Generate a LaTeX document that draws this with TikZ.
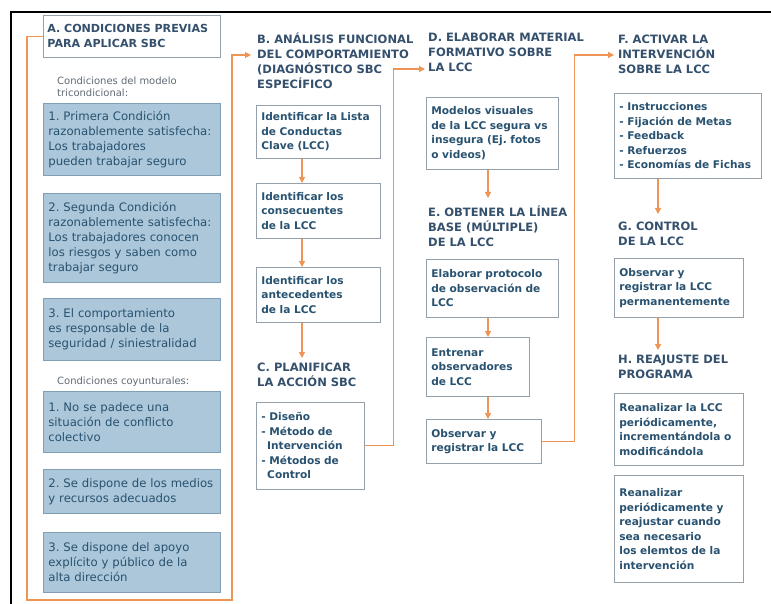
\documentclass[tikz,border=0pt]{standalone}
\usepackage{fontspec}
\setmainfont{DejaVu Sans}
\frenchspacing
\usetikzlibrary{arrows.meta,positioning}
\definecolor{sbcorange}{RGB}{238,148,85}
\definecolor{sbcblue}{RGB}{172,199,217}
\definecolor{sbcblueline}{RGB}{128,158,180}
\definecolor{sbcgrayline}{RGB}{150,160,170}
\definecolor{sbctext}{RGB}{40,82,112}
\definecolor{sbchead}{RGB}{52,80,108}
\definecolor{sbcnote}{RGB}{95,105,115}

\begin{document}
\begin{tikzpicture}[x=1pt,y=-1pt,
  wbox/.style={draw=sbcgrayline,line width=0.8pt,fill=white,anchor=north west,
    inner xsep=5pt,inner ysep=2pt,align=left,text=sbctext,
    font=\bfseries\fontsize{10.6}{14.5}\selectfont},
  bbox/.style={draw=sbcblueline,line width=0.8pt,fill=sbcblue,anchor=north west,
    inner xsep=5pt,inner ysep=2pt,align=left,text=sbctext,text width=167pt,
    font=\fontsize{11.7}{15}\selectfont},
  head/.style={anchor=north west,inner sep=0pt,align=left,text=sbchead,
    font=\bfseries\fontsize{11.5}{15}\selectfont},
  note/.style={anchor=north west,inner sep=0pt,align=left,text=sbcnote,
    font=\fontsize{10}{11.5}\selectfont},
  flow/.style={draw=sbcorange,line width=1.1pt,-{Triangle[length=6pt,width=6pt]}}]
  \useasboundingbox (0,0) rectangle (771,604);
  \draw[line width=1.5pt] (11,604) -- (11,12) -- (771,12); % frame

  % A. conditions
  \node[wbox,inner xsep=4pt,text width=169pt,minimum height=42pt,text=sbchead,
    font=\bfseries\fontsize{11.1}{15}\selectfont] (atitle) at (43,15)
    {A. CONDICIONES PREVIAS\\PARA APLICAR SBC};
  \node[note] (anote) at (57,77) {Condiciones del modelo\\tricondicional:};
  \node[bbox,minimum height=72pt] (a1) at (43,103)
    {1. Primera Condición\\razonablemente satisfecha:\\Los trabajadores\\pueden trabajar seguro};
  \node[bbox,minimum height=89pt] (a2) at (43,193)
    {2. Segunda Condición\\razonablemente satisfecha:\\Los trabajadores conocen\\los riesgos y saben como\\trabajar seguro};
  \node[bbox,minimum height=62pt] (a3) at (43,298)
    {3. El comportamiento\\es responsable de la\\seguridad / siniestralidad};
  \node[note] (cnote) at (57,377) {Condiciones coyunturales:};
  \node[bbox,minimum height=61pt] (c1) at (43,391)
    {1. No se padece una\\situación de conflicto\\colectivo};
  \node[bbox,minimum height=44pt] (c2) at (43,469)
    {2. Se dispone de los medios\\y recursos adecuados};
  \node[bbox,minimum height=60pt] (c3) at (43,532)
    {3. Se dispone del apoyo\\explícito y público de la\\alta dirección};

  % B. and C.
  \node[head] (bhead) at (257,33)
    {B. ANÁLISIS FUNCIONAL\\DEL COMPORTAMIENTO\\(DIAGNÓSTICO SBC\\ESPECÍFICO};
  \node[wbox,text width=114pt,minimum height=53pt] (b1) at (256,105)
    {Identificar la Lista\\de Conductas\\Clave (LCC)};
  \node[wbox,text width=114pt,minimum height=55pt] (b2) at (256,183)
    {Identificar los\\consecuentes\\de la LCC};
  \node[wbox,text width=114pt,minimum height=55pt] (b3) at (256,267)
    {Identificar los\\antecedentes\\de la LCC};
  \node[head] (chead) at (257,363) {C. PLANIFICAR\\LA ACCIÓN SBC};
  \node[wbox,text width=98pt,minimum height=87pt] (cbox) at (256,402)
    {- Diseño\\- Método de\\\hspace*{0.55em}Intervención\\- Métodos de\\\hspace*{0.55em}Control};

  % D. and E.
  \node[head] (dhead) at (428,33) {D. ELABORAR MATERIAL\\FORMATIVO SOBRE\\LA LCC};
  \node[wbox,text width=122pt,minimum height=72pt] (d1) at (426,97)
    {Modelos visuales\\de la LCC segura vs\\insegura (Ej. fotos\\o videos)};
  \node[head] (ehead) at (428,206) {E. OBTENER LA LÍNEA\\BASE (MÚLTIPLE)\\DE LA LCC};
  \node[wbox,text width=122pt,minimum height=58pt] (e1) at (426,259)
    {Elaborar protocolo\\de observación de\\LCC};
  \node[wbox,text width=93pt,minimum height=59pt] (e2) at (426,337)
    {Entrenar\\observadores\\de LCC};
  \node[wbox,text width=105pt,minimum height=44pt] (e3) at (426,419)
    {Observar y\\registrar la LCC};

  % F., G. and H.
  \node[head] (fhead) at (618,35) {F. ACTIVAR LA\\INTERVENCIÓN\\SOBRE LA LCC};
  \node[wbox,text width=137pt,minimum height=85pt] (f1) at (614,93)
    {- Instrucciones\\- Fijación de Metas\\- Feedback\\- Refuerzos\\- Economías de Fichas};
  \node[head] (ghead) at (618,222) {G. CONTROL\\DE LA LCC};
  \node[wbox,text width=119pt,minimum height=59pt] (g1) at (614,258)
    {Observar y\\registrar la LCC\\permanentemente};
  \node[head] (hhead) at (618,355) {H. REAJUSTE DEL\\PROGRAMA};
  \node[wbox,text width=119pt,minimum height=72pt] (h1) at (614,393)
    {Reanalizar la LCC\\periódicamente,\\incrementándola o\\modificándola};
  \node[wbox,text width=119pt,minimum height=107pt] (h2) at (614,475)
    {Reanalizar\\periódicamente y\\reajustar cuando\\sea necesario\\los elemtos de la\\intervención};

  % connectors
  \coordinate (ax) at (232,0);
  \coordinate (abottom) at (27,600);
  \coordinate (bx) at (302,0);
  \coordinate (dx) at (488,0);
  \coordinate (fx) at (658,0);
  \coordinate (bin) at ([shift={(-6,22)}]bhead.north west);
  \coordinate (din) at ([shift={(-3,36)}]dhead.north west);
  \coordinate (fin) at ([shift={(-4,20)}]fhead.north west);

  \draw[flow] (atitle.west) -| (abottom) -| (bin -| ax) -- (bin);
  \draw[flow] (b1.south -| bx) -- (b2.north -| bx);
  \draw[flow] (b2.south -| bx) -- (b3.north -| bx);
  \draw[flow,shorten >=5pt] (b3.south -| bx) -- (chead.north -| bx);
  \draw[flow] (cbox.east) -- ++(29,0) |- (din);
  \draw[flow,shorten >=8pt] (d1.south -| dx) -- (ehead.north -| dx);
  \draw[flow] (e1.south -| dx) -- (e2.north -| dx);
  \draw[flow] (e2.south -| dx) -- (e3.north -| dx);
  \draw[flow] (e3.east) -- ++(33,0) |- (fin);
  \draw[flow,shorten >=8pt] (f1.south -| fx) -- (ghead.north -| fx);
  \draw[flow,shorten >=5pt] (g1.south -| fx) -- (hhead.north -| fx);
\end{tikzpicture}
\end{document}
